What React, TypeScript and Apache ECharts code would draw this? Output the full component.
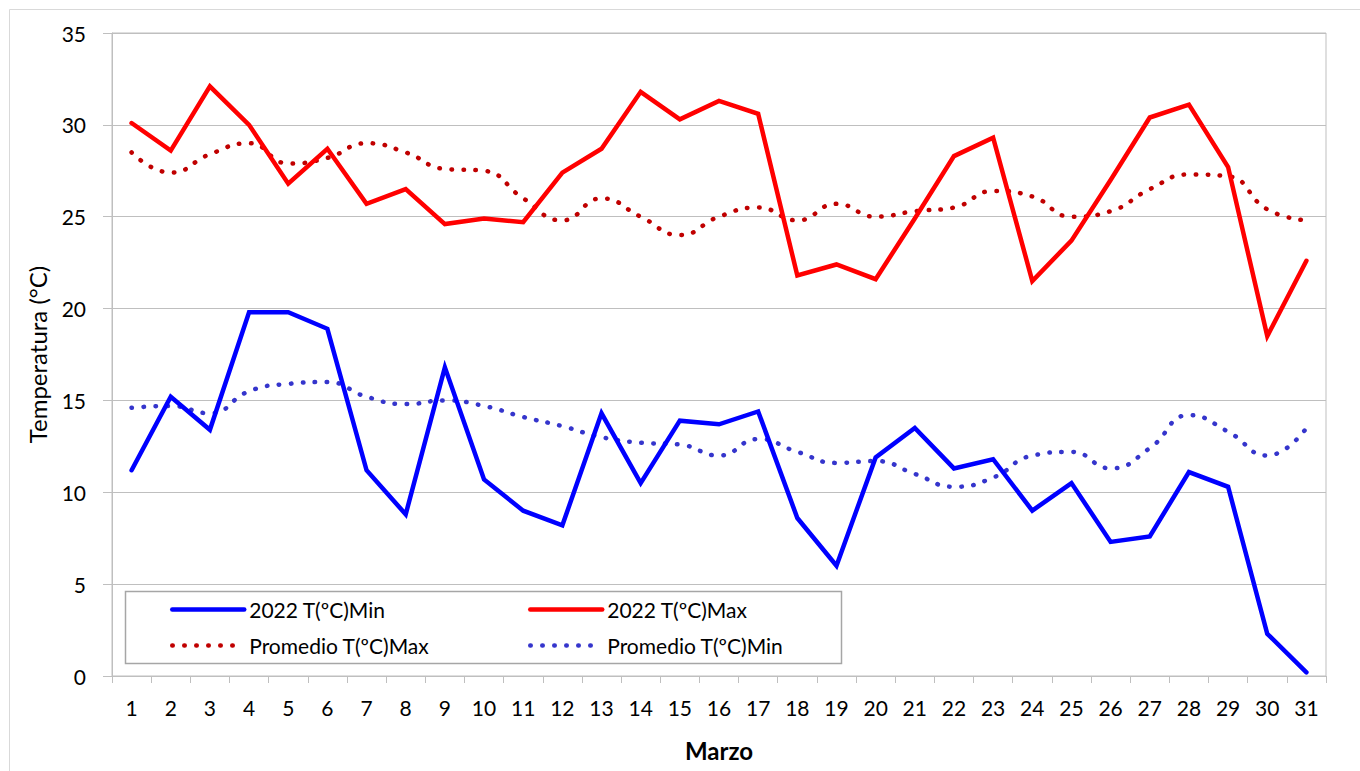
import React, { useEffect, useRef } from 'react';
import * as echarts from 'echarts';

const days = ['1','2','3','4','5','6','7','8','9','10','11','12','13','14','15','16','17','18','19','20','21','22','23','24','25','26','27','28','29','30','31'];

const min2022 = [11.2, 15.2, 13.4, 19.8, 19.8, 18.9, 11.2, 8.8, 16.8, 10.7, 9.0, 8.2, 14.3, 10.5, 13.9, 13.7, 14.4, 8.6, 6.0, 11.9, 13.5, 11.3, 11.8, 9.0, 10.5, 7.3, 7.6, 11.1, 10.3, 2.3, 0.2];
const max2022 = [30.1, 28.6, 32.1, 30.0, 26.8, 28.7, 25.7, 26.5, 24.6, 24.9, 24.7, 27.4, 28.7, 31.8, 30.3, 31.3, 30.6, 21.8, 22.4, 21.6, 24.9, 28.3, 29.3, 21.5, 23.7, 27.0, 30.4, 31.1, 27.7, 18.5, 22.6];
const promMax = [28.5, 27.4, 28.4, 29.0, 27.9, 28.2, 29.0, 28.5, 27.6, 27.5, 26.0, 24.8, 26.0, 25.0, 24.0, 25.0, 25.5, 24.8, 25.7, 25.0, 25.3, 25.5, 26.4, 26.1, 25.0, 25.3, 26.5, 27.3, 27.2, 25.4, 24.8];
const promMin = [14.6, 14.7, 14.3, 15.5, 15.9, 16.0, 15.2, 14.8, 15.0, 14.7, 14.1, 13.6, 13.0, 12.7, 12.6, 12.0, 12.9, 12.2, 11.6, 11.7, 11.0, 10.3, 10.8, 12.0, 12.2, 11.3, 12.4, 14.2, 13.3, 12.0, 13.5];

const yTicks = { min: 0, max: 35, interval: 5 };

const NAMES = ['2022 T(ºC)Min', '2022 T(ºC)Max', 'Promedio T(ºC)Max', 'Promedio T(ºC)Min'];

const FONT = 'Lato';

export default function App() {
  const ref = useRef<HTMLDivElement>(null);
  useEffect(() => {
    if (!ref.current) return;
    const chart = echarts.init(ref.current, null, { renderer: 'svg' });
    const dot = [0.5, 11.5];
    const legendBase = {
      orient: 'horizontal',
      padding: 0,
      itemWidth: 72,
      itemHeight: 14,
      textStyle: { fontFamily: FONT, fontSize: 21, color: '#000' },
      itemStyle: { opacity: 0, color: 'rgba(0,0,0,0)', borderWidth: 0 },
      lineStyle: { width: 4.5, cap: 'round' },
      selectedMode: false,
    };
    chart.setOption({
      animation: false,
      backgroundColor: '#fff',
      textStyle: { fontFamily: FONT },
      grid: {
        left: 112, top: 33, right: 34, bottom: 95,
        show: true, borderColor: '#BFBFBF', borderWidth: 1,
        containLabel: false,
      },
      xAxis: {
        type: 'category',
        data: days,
        boundaryGap: true,
        name: 'Marzo',
        nameLocation: 'middle',
        nameGap: 62,
        nameTextStyle: { fontFamily: FONT, fontSize: 24, fontWeight: 'bold', color: '#000' },
        axisLine: { lineStyle: { color: '#BFBFBF', width: 1 } },
        axisTick: { show: true, length: 7, lineStyle: { color: '#BFBFBF' } },
        axisLabel: { fontFamily: FONT, fontSize: 21, color: '#000', margin: 21, interval: 0 },
        splitLine: { show: false },
      },
      yAxis: {
        type: 'value',
        min: yTicks.min,
        max: yTicks.max,
        interval: yTicks.interval,
        name: 'Temperatura (°C)',
        nameLocation: 'middle',
        nameGap: 63,
        nameTextStyle: { fontFamily: FONT, fontSize: 24, color: '#000' },
        axisLine: { show: true, lineStyle: { color: '#BFBFBF', width: 1 } },
        axisTick: { show: true, length: 9, lineStyle: { color: '#BFBFBF' } },
        axisLabel: { fontFamily: FONT, fontSize: 21, color: '#000', margin: 26 },
        splitLine: { show: true, lineStyle: { color: '#BFBFBF', width: 1 } },
      },
      legend: [
        { ...legendBase, data: [NAMES[0]], left: 170, top: 599 },
        { ...legendBase, data: [NAMES[1]], left: 528, top: 599 },
        { ...legendBase, data: [NAMES[2]], left: 170, top: 635 },
        { ...legendBase, data: [NAMES[3]], left: 528, top: 635 },
      ],
      graphic: [
        {
          type: 'rect',
          silent: true,
          z: 100,
          zlevel: 0,
          shape: { x: 9.5, y: 9.5, width: 1400, height: 800 },
          style: { fill: 'none', stroke: '#D9D9D9', lineWidth: 1 },
        },
        {
          type: 'rect',
          silent: true,
          z: 3,
          shape: { x: 125.5, y: 591.5, width: 716, height: 72 },
          style: { fill: '#fff', stroke: '#A6A6A6', lineWidth: 1.5 },
        },
      ],
      series: [
        {
          name: NAMES[2], type: 'line', data: promMax, smooth: 0.5, symbol: 'none',
          lineStyle: { color: '#C00000', width: 4.5, type: dot, cap: 'round' },
          itemStyle: { color: '#C00000' }, z: 2,
        },
        {
          name: NAMES[3], type: 'line', data: promMin, smooth: 0.5, symbol: 'none',
          lineStyle: { color: '#3535CC', width: 4.5, type: dot, cap: 'round' },
          itemStyle: { color: '#3535CC' }, z: 2,
        },
        {
          name: NAMES[0], type: 'line', data: min2022, symbol: 'none',
          lineStyle: { color: '#0000FF', width: 4.5, cap: 'round', join: 'miter' },
          itemStyle: { color: '#0000FF' }, z: 2,
        },
        {
          name: NAMES[1], type: 'line', data: max2022, symbol: 'none',
          lineStyle: { color: '#FF0000', width: 4.5, cap: 'round', join: 'miter' },
          itemStyle: { color: '#FF0000' }, z: 2,
        },
      ],
    });
    return () => chart.dispose();
  }, []);
  return (
    <div
      ref={ref}
      style={{ position: 'absolute', left: 0, top: 0, width: 1360, height: 771 }}
    />
  );
}
